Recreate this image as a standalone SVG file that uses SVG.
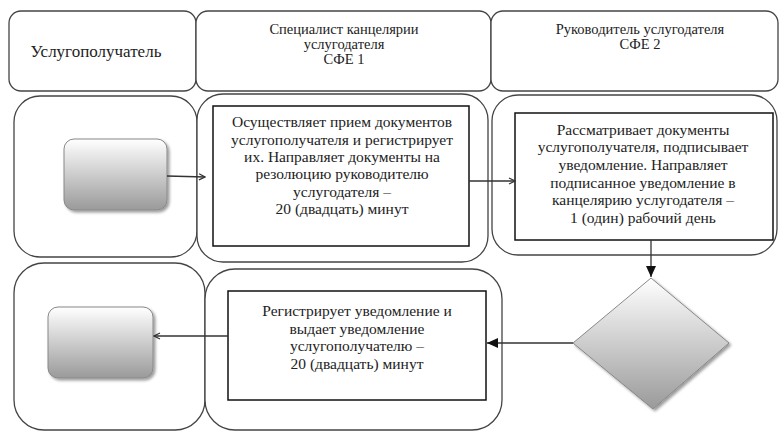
<svg xmlns="http://www.w3.org/2000/svg" width="779" height="432" viewBox="0 0 779 432" font-family="'Liberation Serif', 'DejaVu Serif', 'Times New Roman', serif">
<defs>
<linearGradient id="g" x1="0" y1="0" x2="0" y2="1">
<stop offset="0" stop-color="#ffffff"/>
<stop offset="1" stop-color="#9a9a9a"/>
</linearGradient>
<filter id="sh" x="-20%" y="-20%" width="150%" height="150%">
<feGaussianBlur in="SourceAlpha" stdDeviation="1.5"/>
<feOffset dx="2" dy="2" result="b"/>
<feComponentTransfer><feFuncA type="linear" slope="0.4"/></feComponentTransfer>
<feMerge><feMergeNode/><feMergeNode in="SourceGraphic"/></feMerge>
</filter>
<marker id="open" markerWidth="8" markerHeight="8" refX="7" refY="4" orient="auto" markerUnits="userSpaceOnUse">
<path d="M1,1 L7,4 L1,7" fill="none" stroke="#333" stroke-width="1.2"/>
</marker>
<marker id="fill" markerWidth="12" markerHeight="12" refX="11" refY="6" orient="auto" markerUnits="userSpaceOnUse">
<path d="M0,1 L11,6 L0,11 Z" fill="#111"/>
</marker>
</defs>
<style>
.lane{fill:#fff;stroke:#444;stroke-width:1.3}
.box{fill:#fff;stroke:#111;stroke-width:1.5}
.grad{fill:url(#g);stroke:#888;stroke-width:1}
text{font-family:'Liberation Serif','DejaVu Serif','Times New Roman',serif;fill:#222;text-anchor:middle}
.h{font-size:17px}
.hs{font-size:14.5px}
.t{font-size:15.5px}
.c{fill:none;stroke:#333;stroke-width:1.3}
</style>
<rect width="779" height="432" fill="#fff"/>
<g id="header1"><rect class="lane" x="9" y="11" width="187" height="80" rx="12"/><text class="h" x="96" y="57">Услугополучатель</text></g>
<g id="header2"><rect class="lane" x="196" y="11" width="295" height="80" rx="12"/><text class="hs" x="344" y="34">Специалист канцелярии</text><text class="hs" x="344" y="49">услугодателя</text><text class="hs" x="344" y="64">СФЕ 1</text></g>
<g id="header3"><rect class="lane" x="491" y="11" width="287" height="80" rx="12"/><text class="hs" x="640" y="34">Руководитель услугодателя</text><text class="hs" x="640" y="49">СФЕ 2</text></g>
<g id="lane-r2-1"><rect class="lane" x="14" y="96" width="183" height="161" rx="26"/></g>
<g id="lane-r2-2"><rect class="lane" x="197" y="94" width="291" height="168" rx="26"/></g>
<g id="lane-r2-3"><rect class="lane" x="492" y="95" width="285" height="160" rx="26"/></g>
<g id="lane-r3-1"><rect class="lane" x="14" y="263" width="191" height="167" rx="30"/></g>
<g id="lane-r3-2"><rect class="lane" x="205" y="269" width="297" height="161" rx="30"/></g>
<g id="start"><rect class="grad" x="64" y="139" width="103" height="71" rx="10" filter="url(#sh)"/></g>
<g id="step1"><rect class="box" x="213" y="106" width="256" height="140"/>
<text class="t" x="342" y="127">Осуществляет прием документов</text>
<text class="t" x="342" y="145">услугополучателя и регистрирует</text>
<text class="t" x="342" y="162">их. Направляет документы на</text>
<text class="t" x="342" y="179">резолюцию руководителю</text>
<text class="t" x="342" y="197">услугодателя  –</text>
<text class="t" x="342" y="214">20 (двадцать) минут</text></g>
<g id="step2"><rect class="box" x="515" y="113" width="258" height="127"/>
<text class="t" x="643" y="135">Рассматривает документы</text>
<text class="t" x="643" y="152">услугополучателя, подписывает</text>
<text class="t" x="643" y="170">уведомление. Направляет</text>
<text class="t" x="643" y="188">подписанное уведомление в</text>
<text class="t" x="643" y="205">канцелярию услугодателя –</text>
<text class="t" x="643" y="223">1 (один) рабочий день</text></g>
<g id="decision"><polygon class="grad" points="651,278 729,343 653,409 573,343" filter="url(#sh)"/></g>
<g id="step3"><rect class="box" x="228" y="291" width="258" height="109"/>
<text class="t" x="357" y="316">Регистрирует уведомление и</text>
<text class="t" x="357" y="334">выдает уведомление</text>
<text class="t" x="357" y="351">услугополучателю –</text>
<text class="t" x="357" y="369">20 (двадцать) минут</text></g>
<g id="end"><rect class="grad" x="48" y="307" width="105" height="71" rx="10" filter="url(#sh)"/></g>
<g id="connectors">
<line class="c" x1="167" y1="176" x2="205" y2="177" marker-end="url(#open)"/>
<line class="c" x1="469" y1="181" x2="515" y2="181" marker-end="url(#open)"/>
<line class="c" x1="651" y1="240" x2="651" y2="277" marker-end="url(#fill)"/>
<line class="c" x1="573" y1="343" x2="487" y2="343" marker-end="url(#fill)"/>
<line class="c" x1="228" y1="336" x2="154" y2="336" marker-end="url(#open)"/>
</g>
</svg>
